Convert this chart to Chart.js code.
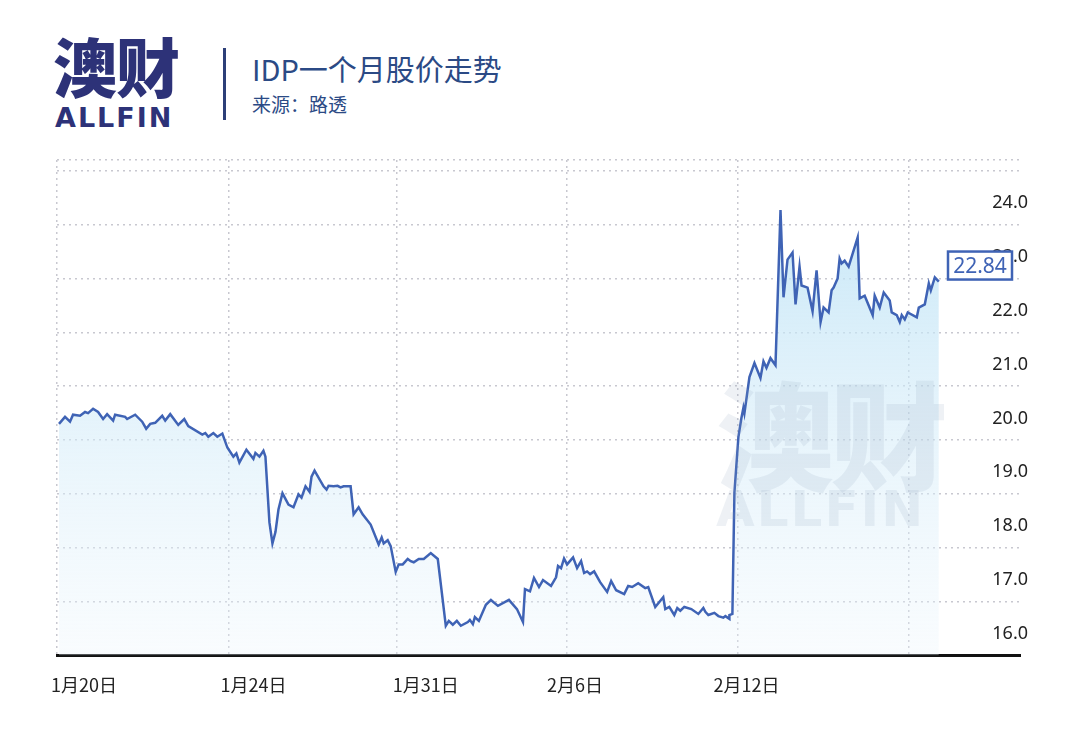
<!DOCTYPE html>
<html>
<head>
<meta charset="utf-8">
<script src="https://cdn.jsdelivr.net/npm/chart.js@4"></script>
<style>
body{margin:0;background:#fff;font-family:"Noto Sans CJK SC",sans-serif;}
#wrap{position:relative;width:1067px;height:733px;overflow:hidden;}
#logo1{position:absolute;left:53px;top:24px;font-size:64px;line-height:80px;font-weight:900;color:#2d3278;letter-spacing:-1px;}
#logo2{position:absolute;left:55px;top:103px;font-size:27px;line-height:30px;font-weight:900;color:#2d3278;font-family:"DejaVu Sans",sans-serif;letter-spacing:2px;}
#bar{position:absolute;left:223px;top:48px;width:3px;height:72px;background:#2d3f78;}
#title{position:absolute;left:252px;top:47px;font-size:29px;color:#2b4a85;}
#src{position:absolute;left:252px;top:90px;font-size:19px;color:#2b4a85;}
#wm{position:absolute;left:716px;top:372px;color:rgba(140,160,190,0.15);font-weight:900;line-height:1;pointer-events:none;}
#wm .a{font-size:118px;letter-spacing:-4px;}
#wm .b{font-size:50px;font-family:"DejaVu Sans",sans-serif;margin-top:-6px;letter-spacing:2px;}
canvas{position:absolute;left:0;top:0;}
</style>
</head>
<body>
<div id="wrap">
<div id="logo1">澳财</div>
<div id="logo2">ALLFIN</div>
<div id="bar"></div>
<div id="title">IDP一个月股价走势</div>
<div id="src">来源：路透</div>
<canvas id="c" width="1067" height="733"></canvas>
<div id="wm"><div class="a">澳财</div><div class="b">ALLFIN</div></div>
</div>
<script>
// time position along the axis and price
var times = [2,8,13,16,23,28,31,36,41,46,50,56,58,68,70,78,85,89,93,98,105,108,113,121,127,131,145,148,151,156,160,165,170,176,179,182,189,196,198,202,206,208,212,215,218,221,225,231,236,241,244,248,252,254,257,266,269,271,276,280,283,286,293,296,301,305,313,321,324,326,330,333,338,341,345,350,353,356,361,366,373,380,388,391,395,399,403,410,412,415,417,421,428,433,440,451,459,465,467,472,476,481,485,493,498,500,503,506,509,515,519,523,526,529,532,536,542,549,553,558,566,570,574,580,587,590,597,605,607,611,616,619,622,626,633,640,645,647,650,656,660,665,667,671,671,674,676,680,683,685,686,691,696,702,705,708,712,717,722,725,729,734,737,741,743,749,754,758,762,765,770,773,775,779,781,783,786,790,795,799,801,806,814,816,821,825,831,833,838,841,843,846,849,858,860,866,870,872,876,880];
var prices = [19.90,20.03,19.94,20.07,20.05,20.12,20.10,20.18,20.12,19.99,20.08,19.96,20.07,20.03,19.99,20.07,19.94,19.81,19.90,19.92,20.05,19.96,20.08,19.88,19.99,19.86,19.70,19.73,19.66,19.73,19.66,19.72,19.46,19.29,19.35,19.18,19.42,19.25,19.36,19.29,19.40,19.29,18.07,17.68,17.89,18.31,18.61,18.40,18.35,18.59,18.53,18.74,18.64,18.92,19.03,18.74,18.68,18.75,18.74,18.75,18.72,18.74,18.74,18.22,18.35,18.22,18.03,17.66,17.79,17.68,17.74,17.63,17.15,17.29,17.29,17.39,17.35,17.33,17.39,17.39,17.50,17.39,16.15,16.24,16.17,16.24,16.15,16.22,16.26,16.18,16.31,16.24,16.54,16.63,16.52,16.63,16.46,16.22,16.83,16.79,17.04,16.87,17.00,16.89,17.05,17.26,17.22,17.40,17.29,17.42,17.22,17.35,17.13,17.16,17.11,17.16,16.96,16.78,16.98,16.81,16.74,16.89,16.87,16.94,16.85,16.87,16.50,16.68,16.46,16.50,16.35,16.48,16.43,16.50,16.46,16.37,16.48,16.41,16.35,16.39,16.33,16.30,16.33,16.28,16.35,16.37,18.62,19.66,20.01,20.20,20.10,20.77,21.03,20.75,21.06,20.94,21.12,20.99,23.87,22.25,22.95,23.08,22.12,22.82,22.47,22.43,21.99,22.75,21.79,22.06,21.97,22.38,22.43,22.60,22.97,22.88,22.93,22.82,23.12,23.36,22.23,22.28,21.92,22.28,22.06,22.34,22.19,21.97,21.92,21.79,21.92,21.84,21.97,21.88,22.06,22.12,22.51,22.38,22.62,22.54,22.47];
var dateLabels = ['1月20日','1月24日','1月31日','2月6日','2月12日'];
var dateLabelPos = [27,196,368,517,688];
var dateGridPos = [0,171,339,509,679,850];
var yLabelVals = [16,17,18,19,20,21,22,23,24];
var yGridVals = [16.6,17.6,18.6,19.6,20.6,21.6,22.6,23.6,24.6,24.8];
var lastPrice = 22.84;

var pts = times.map(function(t,i){ return {x:t, y:prices[i]}; });

var lastBox = {
    id:'lastBox',
    afterDraw:function(chart){
        var ctx = chart.ctx, y = chart.scales.y.getPixelForValue(lastPrice);
        ctx.save();
        ctx.fillStyle = '#fff';
        ctx.fillRect(948, y-14, 64, 28);
        ctx.strokeStyle = '#3f63b5';
        ctx.lineWidth = 2.5;
        ctx.strokeRect(948, y-14, 64, 28);
        ctx.fillStyle = '#3f63b5';
        ctx.font = '21px "Noto Sans", sans-serif';
        ctx.textAlign = 'center';
        ctx.textBaseline = 'middle';
        ctx.fillText(lastPrice.toFixed(2), 980, y+1);
        ctx.restore();
    }
};

function isGrid(v){ return yGridVals.some(function(g){ return Math.abs(g-v)<1e-6; }); }

new Chart(document.getElementById('c'), {
    type:'line',
    data:{datasets:[{
        data:pts,
        borderColor:'#3f63b5',
        borderWidth:2.5,
        pointRadius:0,
        tension:0,
        fill:'start',
        backgroundColor:function(ctx){
            var a = ctx.chart.chartArea;
            if(!a) return 'rgba(200,230,245,0.6)';
            var g = ctx.chart.ctx.createLinearGradient(0,a.top+40,0,a.bottom);
            g.addColorStop(0,'rgba(185,225,245,0.8)');
            g.addColorStop(1,'rgba(235,245,252,0.3)');
            return g;
        }
    }]},
    options:{
        responsive:false,
        animation:false,
        layout:{padding:{left:57,right:31,top:160,bottom:18}},
        plugins:{legend:{display:false},tooltip:{enabled:false}},
        scales:{
            x:{
                type:'linear', min:0, max:961,
                afterBuildTicks:function(s){ s.ticks = dateLabelPos.map(function(v){ return {value:v}; }); },
                ticks:{
                    callback:function(v){ return dateLabels[dateLabelPos.indexOf(v)]; },
                    color:'#222', font:{size:18, family:'"Noto Sans CJK SC"'}, padding:19, maxRotation:0, autoSkip:false
                },
                grid:{display:false, drawTicks:false},
                border:{color:'#111', width:3}
            },
            x2:{
                type:'linear', min:0, max:961, position:'top', display:true,
                afterBuildTicks:function(s){ s.ticks = dateGridPos.map(function(v){ return {value:v}; }); },
                ticks:{display:false},
                grid:{color:'#c8c8d0', lineWidth:1.5, drawTicks:false},
                border:{display:false, dash:[2,4]}
            },
            y:{
                position:'right', min:15.6, max:24.8,
                afterBuildTicks:function(s){
                    s.ticks = yLabelVals.concat(yGridVals).sort(function(a,b){return a-b;}).map(function(v){ return {value:v}; });
                },
                ticks:{
                    mirror:true, padding:8, color:'#222', font:{size:18, family:'"Noto Sans"'},
                    callback:function(v){ return isGrid(v) ? '' : v.toFixed(1); }
                },
                grid:{
                    color:function(c){ return isGrid(c.tick.value) ? '#c8c8d0' : 'rgba(0,0,0,0)'; },
                    lineWidth:1.5, drawTicks:false
                },
                border:{display:false, dash:[2,4]}
            }
        }
    },
    plugins:[lastBox]
});
</script>
</body>
</html>
